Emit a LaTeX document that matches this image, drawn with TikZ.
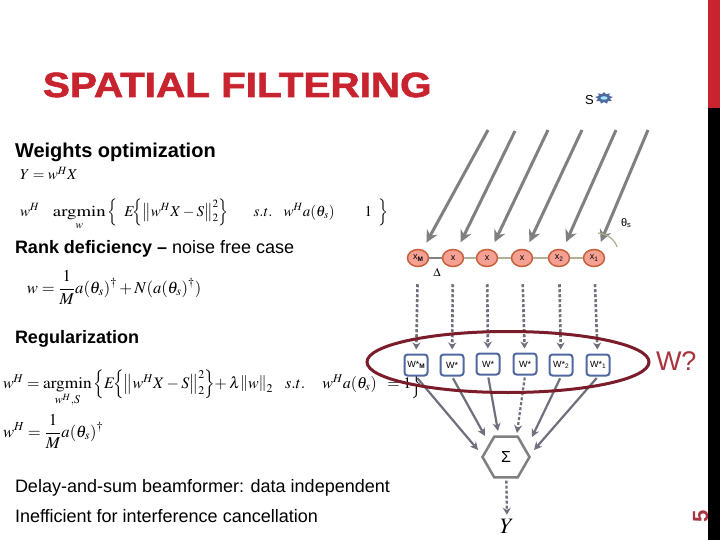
\documentclass[tikz,border=0pt]{standalone}
\usepackage{amsmath}
\usepackage{mathptmx}
\usepackage[no-math]{fontspec}
\setmainfont{Liberation Sans}
\newfontfamily\titlef[FakeBold=1.6]{Liberation Sans Bold}
\usetikzlibrary{arrows.meta,shapes.geometric}
\definecolor{titlered}{HTML}{C8242F}
\definecolor{ringred}{HTML}{7B1C2A}
\definecolor{wred}{HTML}{A8343F}
\definecolor{raygray}{HTML}{808080}
\definecolor{flowgray}{HTML}{6F6F7E}
\definecolor{boxblue}{HTML}{4F689F}
\definecolor{sensorfill}{HTML}{F4A093}
\definecolor{sensorline}{HTML}{C8603C}
\definecolor{tiegray}{HTML}{B0B094}
\newcommand{\fs}[1]{\fontsize{#1}{#1}\selectfont}
\tikzset{
  txt/.style={anchor=base west,inner sep=0pt,outer sep=0pt,text=black},
  ray/.style={draw=raygray,line width=3pt,-{Stealth[length=12pt,width=12pt]},shorten >=8pt},
  flow/.style={draw=flowgray,line width=2.6pt,densely dashed,-{Stealth[length=7pt,width=8pt]},shorten <=17pt,shorten >=4pt},
  intoS/.style={draw=flowgray,line width=2.2pt,-{Stealth[length=8pt,width=8pt]},shorten <=2pt},
  sensor/.style={ellipse,draw=sensorline,fill=sensorfill,line width=1.5pt,minimum width=21pt,minimum height=17pt,inner sep=0pt,font=\fs{9}},
  weight/.style={rectangle,rounded corners=3pt,draw=boxblue,fill=white,line width=2pt,minimum width=23pt,minimum height=21pt,inner sep=0pt,font=\fs{9}},
  tie/.style={draw=tiegray,line width=1.5pt},
}
\begin{document}
\begin{tikzpicture}[x=1pt,y=-1pt]
\useasboundingbox (0,0) rectangle (720,540);
\fill[white] (0,0) rectangle (720,540);
% title
\node[txt,text=titlered] (title) at (43,97) {\scalebox{1.155}[1]{\fs{35}\titlef SPATIAL FILTERING}};
% text
\node[txt] (t1) at (15,158) {\fs{20}\bfseries Weights optimization};
\node[txt] (t2) at (15,254) {\fs{18}\textbf{Rank deficiency --} noise free case};
\node[txt] (t3) at (15,343) {\fs{18}\bfseries Regularization};
\node[txt] (t4) at (15,492) {\fs{18}Delay-and-sum beamformer: data independent};
\node[txt] (t5) at (15,522) {\fs{18}Inefficient for interference cancellation};
% equations
\node[txt] (e1) at (20,180) {\fs{15}$Y=w^{H}X$};
\node[txt] (e2) at (20,216) {\fs{15}$w^{H}\hspace{12pt}\mathop{\scalebox{1.25}[1]{$\mathrm{argmin}$}}\limits_{w}{\left\{\hspace{7pt}E\hspace{-2pt}{\left\{{\left\|w^{H}X-S\right\|}_2^2\right\}}\hspace{25pt}s.t.\hspace{11pt}w^{H}a(\theta_s)\hspace{30pt}1\hspace{6pt}\right\}}$};
\node[txt] (e3) at (27,293) {\fs{16.6}$w=\dfrac{1}{M}a(\theta_s)^{\dagger}+N(a(\theta_s)^{\dagger})$};
\node[txt] (e4) at (3,388) {\fs{16}$w^{H}=\mathop{\scalebox{1.08}[1]{$\mathrm{argmin}$}}\limits_{w^{H},S}{\left\{E\hspace{-2pt}{\left\{{\left\|w^{H}X-S\right\|}_2^2\right\}}\hspace{-3pt}+\lambda{\left\|w\right\|}_2\hspace{12pt}s.t.\hspace{17pt}w^{H}a(\theta_s)\hspace{7pt}=1\right\}}$};
\node[txt] (e5) at (3,437) {\fs{16.6}$w^{H}=\dfrac{1}{M}a(\theta_s)^{\dagger}$};
% source
\node[txt,font=\fs{13}] (s) at (585,105) {S};
\begin{scope}[xscale=1.5]
\node[star,star points=9,star point ratio=1.5,fill=boxblue,minimum size=12pt,inner sep=0pt,transform shape] (sun) at (604/1.5,98) {};
\end{scope}
\node[ellipse,fill=blue!25!cyan!35!white,minimum width=7pt,minimum height=3.5pt,inner sep=0pt] (suncore) at (604,98) {};
% sensors
\node[sensor] (x1) at (418,258) {x\raisebox{-1.5pt}{\fs{6.5}\bfseries M}};
\node[sensor] (x2) at (453,258) {x};
\node[sensor] (x3) at (487,258) {x};
\node[sensor] (x4) at (522,258) {x};
\node[sensor] (x5) at (559,258) {x\raisebox{-1.5pt}{\fs{6.5}2}};
\node[sensor] (x6) at (594,258) {x\raisebox{-1.5pt}{\fs{6.5}1}};
\draw[draw=raygray,line width=2.5pt] (x1) -- (x2);
\draw[tie] (x2) -- (x3);
\draw[tie] (x3) -- (x4);
\draw[tie] (x4) -- (x5);
\draw[tie] (x5) -- (x6);
\node[font=\fs{12},inner sep=0pt] (delta) at (437,272) {$\Delta$};
% rays
\coordinate (r1) at (488,130);
\coordinate (r2) at (515,131);
\coordinate (r3) at (548,130);
\coordinate (r4) at (582,130);
\coordinate (r5) at (616,130);
\coordinate (r6) at (648,130);
\foreach \i in {1,...,6} {\draw[ray] (r\i) -- (x\i);}
% angle
\coordinate (a1) at (598,233);
\coordinate (a2) at (617,247);
\draw[draw=tiegray,line width=1.3pt] (a1) .. controls (608,234) and (615,240) .. (a2);
\node[txt,font=\fs{11}] (theta) at (621,226) {θ\raisebox{-1.5pt}{\fs{7.5}s}};
% weights
\node[weight] (w1) at (416,365) {W*\raisebox{-1.5pt}{\fs{6.5}\bfseries M}};
\node[weight] (w2) at (452,365) {W*};
\node[weight] (w3) at (488,364) {W*};
\node[weight] (w4) at (525,364) {W*};
\node[weight] (w5) at (561,365) {W*\raisebox{-1.5pt}{\fs{6.5}2}};
\node[weight] (w6) at (598,365) {W*\raisebox{-1.5pt}{\fs{6.5}1}};
\foreach \i in {1,...,6} {\draw[flow] (x\i) -- (w\i);}
% sum
\node[regular polygon,regular polygon sides=6,draw=raygray,line width=2.5pt,minimum size=47pt,inner sep=0pt,font=\fs{16}] (sig) at (506,457) {Σ};
\coordinate (c1) at (478,450);
\coordinate (c2) at (485,436);
\coordinate (c3) at (498,431);
\coordinate (c4) at (517,433);
\coordinate (c5) at (532,437);
\coordinate (c6) at (534,450);
\draw[intoS] (w1.south) -- (c1);
\draw[intoS] (w2.south) -- (c2);
\draw[intoS] (w3.south) -- (c3);
\draw[intoS,densely dashed] (w4.south) -- (c4);
\draw[intoS] (w5.south) -- (c5);
\draw[intoS] (w6.south) -- (c6);
\node[txt,font=\fs{22}] (y) at (500,533) {$Y$};
\draw[draw=flowgray,line width=2.4pt,densely dashed,-{Stealth[length=7pt,width=8pt]},shorten <=2pt,shorten >=4pt] (sig) -- (y.north);
% ring
\node[ellipse,draw=ringred,line width=3pt,minimum width=282pt,minimum height=61pt,inner sep=0pt] (ring) at (508,362) {};
\node[txt,text=wred,font=\fs{27}] (wq) at (656,370) {W?};
% page number and side strip
\node[anchor=base,rotate=90,text=wred,inner sep=0pt,font=\fs{22}\bfseries] (pg) at (708,516) {5};
\fill[titlered] (708,0) rectangle (720,108);
\fill[black] (708,108) rectangle (720,540);
\end{tikzpicture}
\end{document}
